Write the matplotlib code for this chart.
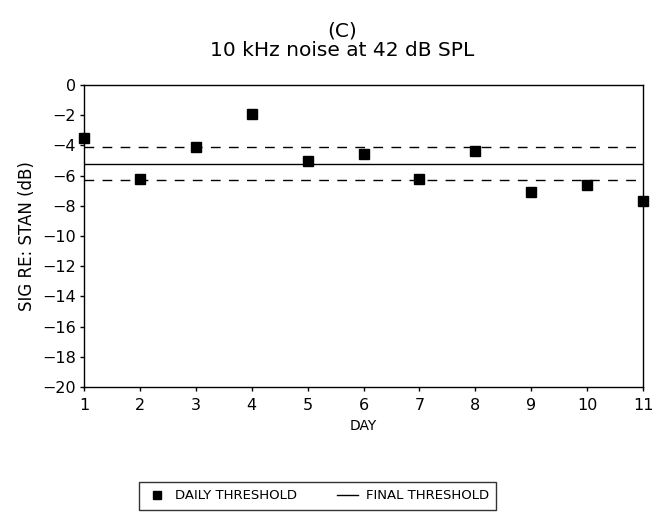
import numpy as np
import matplotlib.pyplot as plt

plt.rcParams['font.family'] = ['DejaVu Sans']

# daily thresholds
days = [1, 2, 3, 4, 5, 6, 7, 8, 9, 10, 11]
daily = [-3.5, -6.2, -4.1, -1.95, -5.05, -4.6, -6.2, -4.4, -7.1, -6.6, -7.65]

final_threshold = -5.2
band_upper = -4.1
band_lower = -6.3

y_ticks = [0, -2, -4, -6, -8, -10, -12, -14, -16, -18, -20]

fig = plt.figure(figsize=(6.52, 5.12), dpi=100)
ax = fig.add_axes([84 / 652, 1 - 387 / 512, (643 - 84) / 652, (387 - 85) / 512])

ax.plot(days, daily, linestyle='none', marker='s', markersize=7,
        color='black', clip_on=False, zorder=3, label='DAILY THRESHOLD')
ax.axhline(final_threshold, color='black', lw=1.0, label='FINAL THRESHOLD')
ax.axhline(band_upper, color='black', lw=1.0, dashes=(7, 6))
ax.axhline(band_lower, color='black', lw=1.0, dashes=(7, 6))

ax.set_xlim(1, 11)
ax.set_ylim(-20, 0)
ax.set_xticks(days)
ax.set_yticks(y_ticks)
ax.set_yticklabels([str(v).replace('-', '\u2212') for v in y_ticks])
ax.tick_params(direction='out', length=3, width=1, labelsize=11.5)
ax.tick_params(axis='x', pad=5)
ax.tick_params(axis='y', pad=3)
for s in ax.spines.values():
    s.set_linewidth(1.0)

ax.set_xlabel('DAY', fontsize=10, labelpad=4)
ax.set_ylabel('SIG RE: STAN (dB)', fontsize=12, labelpad=4)

fig.text(342 / 652, 1 - 31 / 512, '(C)', ha='center', va='center', fontsize=14.5)
fig.text(342 / 652, 1 - 50 / 512, '10 kHz noise at 42 dB SPL', ha='center',
         va='center', fontsize=14.5)

fig.legend(loc='upper left', bbox_to_anchor=(139 / 652, 1 - 482 / 512), ncol=2,
           fontsize=9.5, frameon=True, fancybox=False, edgecolor='black',
           handlelength=1.6, handletextpad=0.6, columnspacing=3.0,
           borderpad=0.55, borderaxespad=0, markerscale=0.8)

fig.savefig('out.png', dpi=100)
